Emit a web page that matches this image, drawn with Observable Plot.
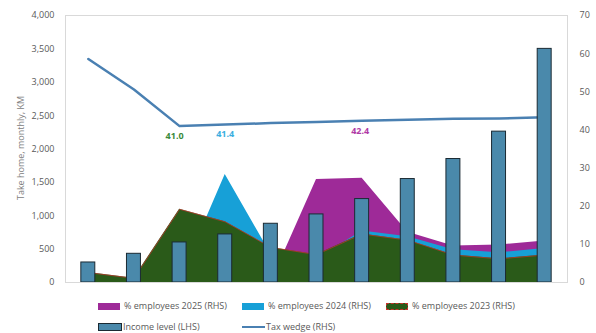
<!DOCTYPE html>
<html><head><meta charset="utf-8">
<script src="https://cdn.jsdelivr.net/npm/d3@7"></script>
<script src="https://cdn.jsdelivr.net/npm/@observablehq/plot@0.6"></script>
<style>
body{margin:0;background:#fff;font-family:"Open Sans",sans-serif;}
#wrap{position:relative;width:596px;height:333px;color:#595959;}
#chart{position:absolute;left:0;top:0;}
.leg{position:absolute;font-size:9px;color:#595959;display:flex;align-items:center;white-space:nowrap;height:12px;line-height:12px;}
.sw{display:inline-block;width:22px;height:7px;margin-right:4px;box-sizing:border-box;}
#ytitle{position:absolute;left:20px;top:148px;transform:translate(-50%,-50%) rotate(-90deg);font-size:9px;color:#808080;white-space:nowrap;}
</style></head><body>
<div id="wrap"><div id="chart"></div><div id="ytitle">Take home, monthly, KM</div></div>
<script>
// ---- data ----
const categories = ["1","2","3","4","5","6","7","8","9","10","11"];
const incomeLevel = [300, 430, 600, 720, 880, 1020, 1250, 1550, 1850, 2260, 3500];
const taxWedge = [58.6, 50.6, 41.0, 41.4, 41.8, 42.1, 42.4, 42.7, 42.9, 43.0, 43.3];
const emp2023 = [2.6, 1.1, 19.2, 15.9, 9.2, 7.3, 12.7, 11.1, 7.2, 6.2, 7.2];
const emp2024 = [2.4, 1.0, 0.5, 28.3, 7.5, 6.0, 13.5, 12.0, 8.6, 7.8, 8.9];
const emp2025 = [0, 0, 0, 0, 0, 27.0, 27.3, 13.2, 9.6, 9.8, 10.9];
const leftTicks = [0, 500, 1000, 1500, 2000, 2500, 3000, 3500, 4000];
const rightTicks = [0, 10, 20, 30, 40, 50, 60, 70];
const labelIndex = [2, 3, 6];
const labelColors = ["#3a8a3a", "#3aaee0", "#b03aa6"];
const labelShift = [-5, 0, -2];
const legendNames = ["% employees 2025 (RHS)", "% employees 2024 (RHS)", "% employees 2023 (RHS)", "Income level (LHS)", "Tax wedge (RHS)"];

const k = 4000 / 70; // RHS -> LHS units
const rows = categories.map((c, i) => ({
  i, c,
  income: incomeLevel[i],
  tax: taxWedge[i] * k,
  e23: emp2023[i] * k,
  e24: emp2024[i] * k,
  e25: emp2025[i] * k
}));
const labelMarks = labelIndex.map((i, j) =>
  Plot.text([{i, y: taxWedge[i] * k, text: taxWedge[i].toFixed(1)}], {
    x: "i", y: "y", text: "text", fill: labelColors[j], dy: 10, dx: labelShift[j],
    fontWeight: "bold", fontSize: 9
  })
);

const chart = Plot.plot({
  width: 596,
  height: 292,
  marginTop: 15,
  marginBottom: 10,
  marginLeft: 65,
  marginRight: 29,
  style: {fontFamily: "Open Sans, sans-serif", fontSize: "9px", color: "#595959", background: "#fff"},
  x: {type: "linear", domain: [-0.5, 10.5], axis: null},
  y: {domain: [0, 4000], axis: null},
  marks: [
    Plot.areaY(rows, {x: "i", y: "e25", fill: "#9e2a98"}),
    Plot.areaY(rows, {x: "i", y: "e24", fill: "#17a0d7"}),
    Plot.areaY(rows, {x: "i", y: "e23", fill: "#2a5a19"}),
    Plot.lineY(rows, {x: "i", y: "e23", stroke: "#c8322c", strokeWidth: 0.7}),
    Plot.lineY(rows, {x: "i", y: "tax", stroke: "#4a80b2", strokeWidth: 2.5}),
    Plot.rectY(rows, {x1: d => d.i - 0.153, x2: d => d.i + 0.153, y: "income", fill: "#4a89ab", stroke: "#1b2a33", strokeWidth: 1}),
    ...labelMarks,
    Plot.frame({stroke: "#d9d9d9"}),
    Plot.axisY(leftTicks, {anchor: "left", tickSize: 0, tickPadding: 11, tickFormat: d3.format(","), label: null}),
    Plot.axisY(rightTicks.map(v => v * k), {anchor: "right", tickSize: 0, tickPadding: 12, tickFormat: d => String(Math.round(d / k)), label: null})
  ]
});
document.getElementById("chart").appendChild(chart);

// ---- legend ----
const wrap = document.getElementById("wrap");
const legendItems = [
  {name: legendNames[0], x: 98, y: 306, sw: "background:#9e2a98"},
  {name: legendNames[1], x: 242, y: 306, sw: "background:#17a0d7"},
  {name: legendNames[2], x: 386, y: 306, sw: "background:#2a5a19;border:1px dashed #c8322c"},
  {name: legendNames[3], x: 98, y: 327, sw: "background:#4a89ab;border:1px solid #1b2a33;width:24px;height:8px;margin-right:1px"},
  {name: legendNames[4], x: 242, y: 327, sw: "height:2px;background:#4a80b2;width:23px;margin-right:1px"}
];
for (const it of legendItems) {
  const d = document.createElement("div");
  d.className = "leg";
  d.style.left = it.x + "px";
  d.style.top = (it.y - 6) + "px";
  d.innerHTML = `<span class="sw" style="${it.sw}"></span><span>${it.name}</span>`;
  wrap.appendChild(d);
}
</script>
</body></html>
